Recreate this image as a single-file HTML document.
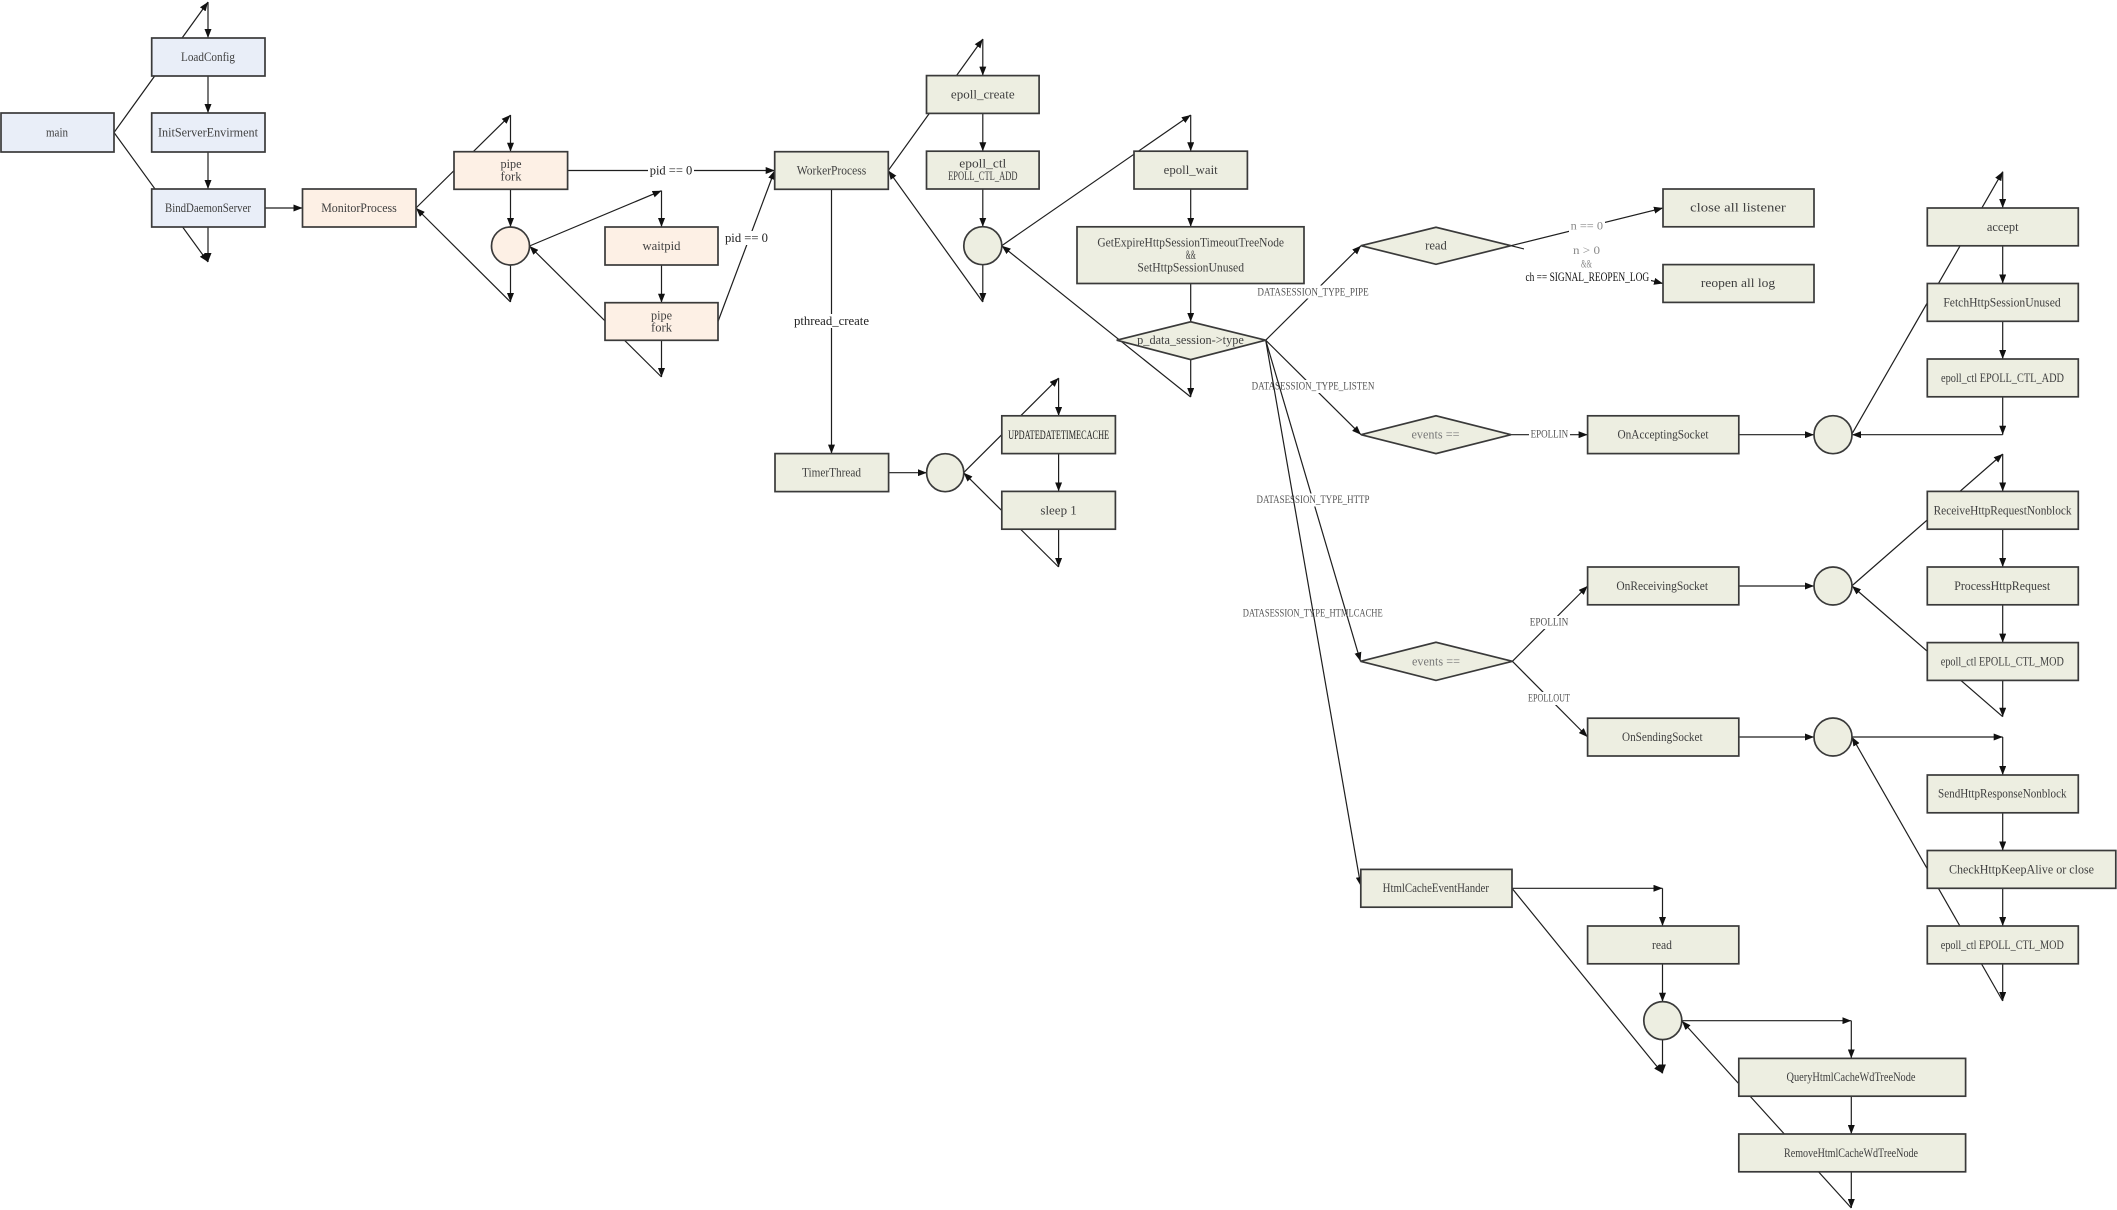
<!DOCTYPE html>
<html><head><meta charset="utf-8"><style>
html,body{margin:0;padding:0;background:#fff;}
svg{display:block;}
text{font-family:"Liberation Serif","Noto Serif CJK SC",serif;font-size:12.5px;fill:#404040;dominant-baseline:central;text-anchor:middle;}
.lbl{fill:#555;font-size:11.5px;}
.gr{fill:#8a8a8a;font-size:11.5px;}
.dk{fill:#111;font-size:13px;}
.ln{stroke:#1e1e1e;stroke-width:1.2;fill:none;}
.bx{stroke:#3a3a3a;stroke-width:1.7;}
.b{fill:#E9EEF8;}
.p{fill:#FDF0E5;}
.g{fill:#EDEEE1;}
</style></head><body>
<svg width="2117" height="1210" viewBox="0 0 2117 1210" xmlns="http://www.w3.org/2000/svg">
<defs>
<marker id="a" viewBox="0 0 9 7" refX="9" refY="3.5" markerWidth="9" markerHeight="7" markerUnits="userSpaceOnUse" orient="auto"><path d="M0,0 L9,3.5 L0,7 z" fill="#111"/></marker>
</defs>
<rect width="2117" height="1210" fill="#fff"/>

<!-- connectors -->
<g class="ln" marker-end="url(#a)">
<line x1="114" y1="132.5" x2="208" y2="2"/>
<line x1="208" y1="2" x2="208" y2="38"/>
<line x1="208" y1="76" x2="208" y2="113"/>
<line x1="208" y1="152" x2="208" y2="189"/>
<line x1="208" y1="227" x2="208" y2="262"/>
<line x1="114" y1="132.5" x2="208" y2="262"/>
<line x1="265" y1="208" x2="302.5" y2="208"/>
<line x1="416" y1="208" x2="510.5" y2="115"/>
<line x1="510.5" y1="115" x2="510.5" y2="151.7"/>
<line x1="510.5" y1="189.3" x2="510.5" y2="227"/>
<line x1="510.5" y1="265" x2="510.5" y2="302"/>
<line x1="510.5" y1="302" x2="416" y2="208"/>
<line x1="567.6" y1="170.5" x2="774.7" y2="170.5"/>
<line x1="529.5" y1="246" x2="661.5" y2="190.7"/>
<line x1="661.5" y1="190.7" x2="661.5" y2="227"/>
<line x1="661.5" y1="265" x2="661.5" y2="302.7"/>
<line x1="661.5" y1="340.3" x2="661.5" y2="377"/>
<line x1="661.5" y1="377" x2="529.5" y2="246"/>
<line x1="718" y1="321.5" x2="774.7" y2="170.5"/>
<line x1="888.3" y1="170.5" x2="982.8" y2="39"/>
<line x1="982.8" y1="39" x2="982.8" y2="75.6"/>
<line x1="982.8" y1="113.4" x2="982.8" y2="151.2"/>
<line x1="982.8" y1="189" x2="982.8" y2="226.8"/>
<line x1="982.8" y1="264.6" x2="982.8" y2="302"/>
<line x1="982.8" y1="302" x2="888.3" y2="170.5"/>
<line x1="1001.7" y1="245.7" x2="1190.7" y2="115"/>
<line x1="1190.7" y1="115" x2="1190.7" y2="151.2"/>
<line x1="1190.7" y1="189" x2="1190.7" y2="226.8"/>
<line x1="1190.7" y1="283.5" x2="1190.7" y2="321.8"/>
<line x1="1190.7" y1="359.6" x2="1190.7" y2="397"/>
<line x1="1190.7" y1="397" x2="1001.7" y2="245.7"/>
<line x1="831.5" y1="189.3" x2="831.5" y2="453.6"/>
<line x1="888.6" y1="472.7" x2="926.8" y2="472.7"/>
<line x1="963.6" y1="472.7" x2="1058.6" y2="378"/>
<line x1="1058.6" y1="378" x2="1058.6" y2="416"/>
<line x1="1058.6" y1="453.7" x2="1058.6" y2="491.4"/>
<line x1="1058.6" y1="529.2" x2="1058.6" y2="567"/>
<line x1="1058.6" y1="567" x2="963.6" y2="472.7"/>
</g>

<!-- labels on left connectors -->
<rect x="648" y="163.5" width="46" height="14" fill="#fff"/>
<text x="671" y="170.5" textLength="42.6" lengthAdjust="spacingAndGlyphs" fill="#222" style="fill:#222">pid == 0</text>
<rect x="724" y="231" width="45" height="14" fill="#fff"/>
<text x="746.5" y="238" textLength="43" lengthAdjust="spacingAndGlyphs" style="fill:#222">pid == 0</text>
<rect x="792" y="314" width="79" height="14" fill="#fff"/>
<text x="831.5" y="321" textLength="75" lengthAdjust="spacingAndGlyphs" style="fill:#222">pthread_create</text>

<!-- DATASESSION connectors with labels -->
<line class="ln" marker-end="url(#a)" x1="1265.7" y1="340.2" x2="1361" y2="245.7"/>
<rect x="1256" y="285.5" width="114" height="13" fill="#fff"/>
<text class="lbl" x="1313" y="292.3" textLength="111.3" lengthAdjust="spacingAndGlyphs">DATASESSION_TYPE_PIPE</text>
<line class="ln" marker-end="url(#a)" x1="1265.7" y1="340.2" x2="1361" y2="434.7"/>
<rect x="1250" y="380" width="126" height="13" fill="#fff"/>
<text class="lbl" x="1313" y="386.7" textLength="122.7" lengthAdjust="spacingAndGlyphs">DATASESSION_TYPE_LISTEN</text>
<line class="ln" marker-end="url(#a)" x1="1265.7" y1="340.2" x2="1360.5" y2="661.3"/>
<rect x="1255" y="493.5" width="116" height="13" fill="#fff"/>
<text class="lbl" x="1313" y="500" textLength="113" lengthAdjust="spacingAndGlyphs">DATASESSION_TYPE_HTTP</text>
<line class="ln" marker-end="url(#a)" x1="1265.7" y1="340.2" x2="1360.8" y2="886"/>
<text class="lbl" x="1312.7" y="613.3" textLength="140" lengthAdjust="spacingAndGlyphs">DATASESSION_TYPE_HTMLCACHE</text>

<!-- right connectors -->
<g class="ln" marker-end="url(#a)">
<line x1="1511" y1="245.7" x2="1663" y2="208"/>
<line x1="1511" y1="245.7" x2="1663" y2="283.5"/>
<line x1="1511" y1="434.7" x2="1587.6" y2="434.7"/>
<line x1="1738.8" y1="434.7" x2="1814" y2="434.7"/>
<line x1="1851.5" y1="434.7" x2="2002.7" y2="171.7"/>
<line x1="2002.7" y1="171.7" x2="2002.7" y2="208"/>
<line x1="2002.7" y1="246" x2="2002.7" y2="283.5"/>
<line x1="2002.7" y1="321.3" x2="2002.7" y2="359"/>
<line x1="2002.7" y1="397" x2="2002.7" y2="434.7"/>
<line x1="2002.7" y1="434.7" x2="1852" y2="434.7"/>
<line x1="1512.4" y1="661.3" x2="1587.6" y2="586"/>
<line x1="1512.4" y1="661.3" x2="1587.6" y2="737"/>
<line x1="1738.8" y1="586" x2="1814" y2="586"/>
<line x1="1851.7" y1="586" x2="2002.7" y2="454"/>
<line x1="2002.7" y1="454" x2="2002.7" y2="491.4"/>
<line x1="2002.7" y1="529.2" x2="2002.7" y2="567"/>
<line x1="2002.7" y1="604.8" x2="2002.7" y2="642.6"/>
<line x1="2002.7" y1="680.4" x2="2002.7" y2="716.7"/>
<line x1="2002.7" y1="716.7" x2="1852" y2="586"/>
<line x1="1738.8" y1="737" x2="1814" y2="737"/>
<line x1="1851.7" y1="737" x2="2002.7" y2="737"/>
<line x1="2002.7" y1="737" x2="2002.7" y2="775"/>
<line x1="2002.7" y1="812.7" x2="2002.7" y2="850.5"/>
<line x1="2002.7" y1="888.3" x2="2002.7" y2="926"/>
<line x1="2002.7" y1="964" x2="2002.7" y2="1001"/>
<line x1="2002.7" y1="1001" x2="1852" y2="737"/>
<line x1="1512" y1="888.3" x2="1662.5" y2="888.3"/>
<line x1="1662.5" y1="888.3" x2="1662.5" y2="926"/>
<line x1="1662.5" y1="964" x2="1662.5" y2="1001.7"/>
<line x1="1662.5" y1="1039.3" x2="1662.5" y2="1073.3"/>
<line x1="1512" y1="888.3" x2="1662.5" y2="1073.3"/>
<line x1="1681.8" y1="1020.7" x2="1851.3" y2="1020.7"/>
<line x1="1851.3" y1="1020.7" x2="1851.3" y2="1058.3"/>
<line x1="1851.3" y1="1096" x2="1851.3" y2="1134"/>
<line x1="1851.3" y1="1171.8" x2="1851.3" y2="1208"/>
<line x1="1851.3" y1="1208" x2="1682" y2="1021"/>
</g>

<!-- right connector labels -->
<rect x="1569" y="220" width="36" height="13" fill="#fff"/>
<text class="gr" x="1586.8" y="226.3" textLength="32.4" lengthAdjust="spacingAndGlyphs">n == 0</text>
<rect x="1524" y="244" width="127" height="40" fill="#fff"/>
<text class="gr" x="1586.5" y="251" textLength="27" lengthAdjust="spacingAndGlyphs">n &gt; 0</text>
<text class="gr" x="1586.5" y="264.3" textLength="11" lengthAdjust="spacingAndGlyphs">&amp;&amp;</text>
<text class="dk" x="1587.3" y="276.7" textLength="123.7" lengthAdjust="spacingAndGlyphs">ch == SIGNAL_REOPEN_LOG</text>
<rect x="1529" y="428" width="41" height="13" fill="#fff"/>
<text class="lbl" x="1549.4" y="434.3" textLength="37.6" lengthAdjust="spacingAndGlyphs">EPOLLIN</text>
<rect x="1529" y="616" width="41" height="13" fill="#fff"/>
<text class="lbl" x="1549" y="622.7" textLength="38.6" lengthAdjust="spacingAndGlyphs">EPOLLIN</text>
<rect x="1527" y="692" width="45" height="13" fill="#fff"/>
<text class="lbl" x="1549" y="698.3" textLength="42" lengthAdjust="spacingAndGlyphs">EPOLLOUT</text>

<!-- boxes -->
<g class="bx">
<rect class="b" x="1" y="113" width="113" height="39"/>
<rect class="b" x="151.7" y="38" width="113.3" height="38"/>
<rect class="b" x="151.7" y="113" width="113.3" height="39"/>
<rect class="b" x="151.7" y="189" width="113.3" height="38"/>
<rect class="p" x="302.5" y="189" width="113.5" height="38"/>
<rect class="p" x="454" y="151.7" width="113.6" height="37.6"/>
<ellipse class="p" cx="510.5" cy="246" rx="19" ry="19"/>
<rect class="p" x="605" y="227" width="113" height="38"/>
<rect class="p" x="605" y="302.7" width="113" height="37.6"/>

<rect class="g" x="774.7" y="151.7" width="113.6" height="37.6"/>
<rect class="g" x="926.5" y="75.6" width="112.6" height="37.8"/>
<rect class="g" x="926.5" y="151.2" width="112.6" height="37.8"/>
<ellipse class="g" cx="982.8" cy="245.7" rx="19" ry="19"/>
<rect class="g" x="1134" y="151.2" width="113.4" height="37.8"/>
<rect class="g" x="1077" y="226.8" width="227" height="56.7"/>
<polygon class="g" points="1116.7,340.2 1190.7,321.8 1265.7,340.2 1190.7,359.6"/>
<rect class="g" x="775" y="453.6" width="113.6" height="38"/>
<ellipse class="g" cx="945.2" cy="472.7" rx="18.6" ry="19"/>
<rect class="g" x="1001.8" y="415.8" width="113.6" height="37.8"/>
<rect class="g" x="1001.8" y="491.4" width="113.6" height="37.8"/>

<polygon class="g" points="1361,245.7 1436,227.3 1511,245.7 1436,264.3"/>
<rect class="g" x="1663" y="189" width="151" height="37.8"/>
<rect class="g" x="1663" y="264.6" width="151" height="37.8"/>
<polygon class="g" points="1361,434.7 1436,415.8 1511,434.7 1436,453.6"/>
<rect class="g" x="1587.6" y="415.8" width="151.2" height="37.8"/>
<ellipse class="g" cx="1833" cy="434.7" rx="19" ry="19"/>
<rect class="g" x="1927.3" y="208" width="151" height="37.8"/>
<rect class="g" x="1927.3" y="283.5" width="151" height="37.8"/>
<rect class="g" x="1927.3" y="359" width="151" height="37.8"/>

<rect class="g" x="1927.3" y="491.4" width="151" height="37.8"/>
<rect class="g" x="1927.3" y="567" width="151" height="37.8"/>
<rect class="g" x="1927.3" y="642.6" width="151" height="37.8"/>
<rect class="g" x="1587.6" y="567" width="151.2" height="37.8"/>
<ellipse class="g" cx="1833" cy="586" rx="19" ry="19"/>
<polygon class="g" points="1360.5,661.3 1436,642.3 1512.4,661.3 1436,680.4"/>
<rect class="g" x="1587.6" y="718.2" width="151.2" height="37.8"/>
<ellipse class="g" cx="1833" cy="737" rx="19" ry="19"/>
<rect class="g" x="1927.3" y="775" width="151" height="37.8"/>
<rect class="g" x="1927.3" y="850.5" width="188.5" height="37.8"/>
<rect class="g" x="1927.3" y="926" width="151" height="37.8"/>

<rect class="g" x="1360.8" y="869.4" width="151.2" height="37.8"/>
<rect class="g" x="1587.6" y="926" width="151.2" height="37.8"/>
<ellipse class="g" cx="1662.8" cy="1020.6" rx="19" ry="19"/>
<rect class="g" x="1738.8" y="1058.4" width="226.8" height="37.8"/>
<rect class="g" x="1738.8" y="1134" width="226.8" height="37.8"/>
</g>

<!-- box text -->
<text x="57" y="132.5" textLength="22" lengthAdjust="spacingAndGlyphs">main</text>
<text x="208" y="57" textLength="54" lengthAdjust="spacingAndGlyphs">LoadConfig</text>
<text x="208" y="132.5" textLength="100" lengthAdjust="spacingAndGlyphs">InitServerEnvirment</text>
<text x="208" y="208" textLength="86" lengthAdjust="spacingAndGlyphs">BindDaemonServer</text>
<text x="359" y="208" textLength="75.6" lengthAdjust="spacingAndGlyphs">MonitorProcess</text>
<text x="511" y="164" textLength="21" lengthAdjust="spacingAndGlyphs">pipe</text>
<text x="511" y="176.5" textLength="21" lengthAdjust="spacingAndGlyphs">fork</text>
<text x="661.5" y="246" textLength="38" lengthAdjust="spacingAndGlyphs">waitpid</text>
<text x="661.5" y="315.3" textLength="21" lengthAdjust="spacingAndGlyphs">pipe</text>
<text x="661.5" y="327.5" textLength="21" lengthAdjust="spacingAndGlyphs">fork</text>
<text x="831.5" y="170.5" textLength="69.4" lengthAdjust="spacingAndGlyphs">WorkerProcess</text>
<text x="982.8" y="94.5" textLength="63.7" lengthAdjust="spacingAndGlyphs">epoll_create</text>
<text x="982.8" y="163.5" textLength="47" lengthAdjust="spacingAndGlyphs">epoll_ctl</text>
<text x="982.8" y="176" textLength="69.4" lengthAdjust="spacingAndGlyphs">EPOLL_CTL_ADD</text>
<text x="1190.7" y="170" textLength="54" lengthAdjust="spacingAndGlyphs">epoll_wait</text>
<text x="1190.7" y="242.3" textLength="186.7" lengthAdjust="spacingAndGlyphs">GetExpireHttpSessionTimeoutTreeNode</text>
<text x="1190.7" y="255" textLength="10" lengthAdjust="spacingAndGlyphs">&amp;&amp;</text>
<text x="1190.7" y="267.7" textLength="106.7" lengthAdjust="spacingAndGlyphs">SetHttpSessionUnused</text>
<text x="1190.5" y="340" textLength="106.7" lengthAdjust="spacingAndGlyphs">p_data_session-&gt;type</text>
<text x="831.5" y="472.7" textLength="59" lengthAdjust="spacingAndGlyphs">TimerThread</text>
<text x="1058.6" y="434.8" textLength="101" lengthAdjust="spacingAndGlyphs" style="fill:#222">UPDATEDATETIMECACHE</text>
<text x="1058.6" y="510.3" textLength="36.4" lengthAdjust="spacingAndGlyphs">sleep 1</text>
<text x="1436" y="245.7" textLength="21.7" lengthAdjust="spacingAndGlyphs">read</text>
<text x="1738" y="207.3" textLength="95.7" lengthAdjust="spacingAndGlyphs">close all listener</text>
<text x="1738" y="283" textLength="74.3" lengthAdjust="spacingAndGlyphs">reopen all log</text>
<text x="1435.5" y="434.5" textLength="48" lengthAdjust="spacingAndGlyphs" style="fill:#777">events ==</text>
<text x="1663" y="434.7" textLength="91" lengthAdjust="spacingAndGlyphs">OnAcceptingSocket</text>
<text x="2002.7" y="227" textLength="31.7" lengthAdjust="spacingAndGlyphs">accept</text>
<text x="2002" y="302.4" textLength="117.3" lengthAdjust="spacingAndGlyphs">FetchHttpSessionUnused</text>
<text x="2002.5" y="378" textLength="123" lengthAdjust="spacingAndGlyphs">epoll_ctl EPOLL_CTL_ADD</text>
<text x="2002.6" y="510.3" textLength="138" lengthAdjust="spacingAndGlyphs">ReceiveHttpRequestNonblock</text>
<text x="2002.2" y="586" textLength="96" lengthAdjust="spacingAndGlyphs">ProcessHttpRequest</text>
<text x="2002.3" y="661.5" textLength="123" lengthAdjust="spacingAndGlyphs">epoll_ctl EPOLL_CTL_MOD</text>
<text x="1662.2" y="586" textLength="91.7" lengthAdjust="spacingAndGlyphs">OnReceivingSocket</text>
<text x="1436" y="661.3" textLength="48" lengthAdjust="spacingAndGlyphs" style="fill:#777">events ==</text>
<text x="1662.3" y="737" textLength="80.5" lengthAdjust="spacingAndGlyphs">OnSendingSocket</text>
<text x="2002.3" y="793.5" textLength="128.6" lengthAdjust="spacingAndGlyphs">SendHttpResponseNonblock</text>
<text x="2021.5" y="869.4" textLength="145" lengthAdjust="spacingAndGlyphs">CheckHttpKeepAlive or close</text>
<text x="2002.3" y="945" textLength="123" lengthAdjust="spacingAndGlyphs">epoll_ctl EPOLL_CTL_MOD</text>
<text x="1435.8" y="888" textLength="106.3" lengthAdjust="spacingAndGlyphs">HtmlCacheEventHander</text>
<text x="1662" y="945" textLength="20" lengthAdjust="spacingAndGlyphs">read</text>
<text x="1851" y="1077" textLength="129" lengthAdjust="spacingAndGlyphs">QueryHtmlCacheWdTreeNode</text>
<text x="1851" y="1153" textLength="134" lengthAdjust="spacingAndGlyphs">RemoveHtmlCacheWdTreeNode</text>
</svg>
</body></html>
